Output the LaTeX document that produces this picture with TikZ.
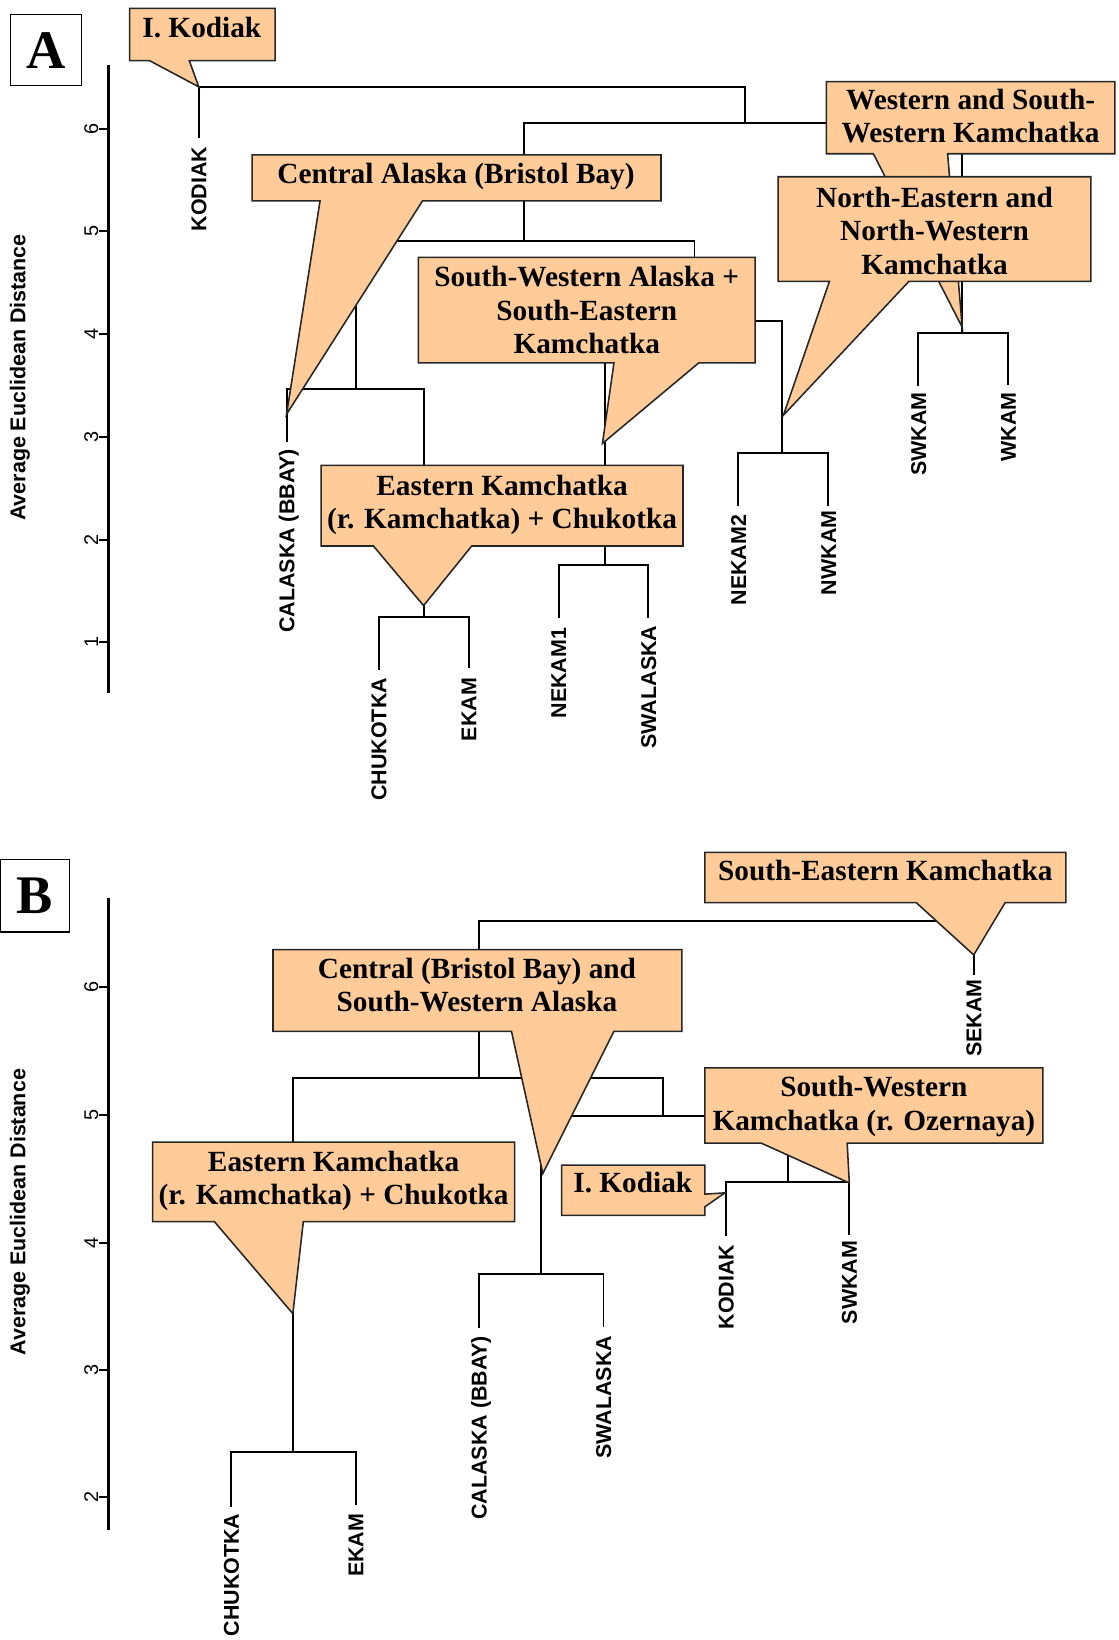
\documentclass[tikz,border=0pt]{standalone}
\usepackage{fontspec}
\setmainfont{Liberation Serif}
\newfontfamily\lsans{Liberation Sans}
\definecolor{peach}{HTML}{FFCC99}
\begin{document}
\begin{tikzpicture}[x=1pt,y=-1pt,
  dline/.style={line width=1.9pt,line join=miter},
  axisline/.style={line width=3.2pt},
  tickline/.style={line width=1.8pt},
  ticklab/.style={font=\lsans\fontsize{19}{20}\selectfont,rotate=90,anchor=south,inner sep=0pt,text height=13.6pt,text depth=0pt},
  axtitle/.style={font=\lsans\bfseries\fontsize{20.5}{22}\selectfont,rotate=90,inner sep=0pt},
  leaflab/.style={font=\lsans\bfseries\fontsize{20.5}{22}\selectfont,rotate=90,anchor=east,inner sep=0pt,text height=14.7pt,text depth=0pt},
  callout/.style={fill=peach,draw=black!85,line width=1.5pt,line join=miter},
  ctext/.style={font=\bfseries\fontsize{28}{32}\selectfont,align=center,inner sep=0pt},
  panlab/.style={draw,line width=1.4pt,inner sep=0pt,font=\bfseries\fontsize{52}{52}\selectfont}
]
\useasboundingbox (0,0) rectangle (1069,1568);

% ================= PANEL A =================
\node[panlab,minimum width=68pt,minimum height=68pt] (panA) at (44,48) {A};
\draw[axisline] (104,62) -- (104,663);
\foreach \v/\yy in {1/614,2/516,3/418,4/319,5/221,6/123}{
  \draw[tickline] (95,\yy) -- (104,\yy);
  \node[ticklab] (aT\v) at (94,\yy) {\v};
}
\node[axtitle] (aAx) at (19,361) {Average Euclidean Distance};

% leaves (line ends)
\coordinate (aKOD) at (190,132);
\coordinate (aSWK) at (878,369);
\coordinate (aWK)  at (964,368);
\coordinate (aCAL) at (274,423);
\coordinate (aCHU) at (362,641);
\coordinate (aEK)  at (448,639);
\coordinate (aNE1) at (534,591);
\coordinate (aSWA) at (620,591);
\coordinate (aNE2) at (706,484);
\coordinate (aNW)  at (792,484);
% clusters
\coordinate (aRoot) at (451,83);
\coordinate (aR)  at (712,118);
\coordinate (aL)  at (501,230);
\coordinate (aK)  at (920,318);
\coordinate (aC)  at (340,372);
\coordinate (aE)  at (405,590);
\coordinate (aM)  at (664,307);
\coordinate (aN1) at (578,540);
\coordinate (aN2) at (748,433);

\draw[dline] (aKOD) |- (aRoot) -| (aR);
\draw[dline] (aL) |- (aR) -| (aK);
\draw[dline] (aC) |- (aL) -| (aM);
\draw[dline] (aCAL) |- (aC) -| (aE);
\draw[dline] (aCHU) |- (aE) -| (aEK);
\draw[dline] (aN1) |- (aM) -| (aN2);
\draw[dline] (aNE1) |- (aN1) -| (aSWA);
\draw[dline] (aNE2) |- (aN2) -| (aNW);
\draw[dline] (aSWK) |- (aK) -| (aWK);

\node[leaflab] (laKOD) at (190,140) {KODIAK};
\node[leaflab] (laSWK) at (878,375) {SWKAM};
\node[leaflab] (laWK)  at (964,375) {WKAM};
\node[leaflab] (laCAL) at (274,429) {CALASKA (BBAY)};
\node[leaflab] (laCHU) at (362,648) {CHUKOTKA};
\node[leaflab] (laEK)  at (448,648) {EKAM};
\node[leaflab] (laNE1) at (534,600) {NEKAM1};
\node[leaflab] (laSWA) at (620,598) {SWALASKA};
\node[leaflab] (laNE2) at (706,492) {NEKAM2};
\node[leaflab] (laNW)  at (792,488) {NWKAM};

% callouts A
\path[callout] (124,8) -- (263,8) -- (263,58) -- (181,58) -- (190,83) -- (143,58) -- (124,58) -- cycle;
\node[ctext] (aKodC) at (193,29.6) {\strut I. Kodiak};

\path[callout] (241,148) -- (632,148) -- (632,192) -- (404,192) -- (274,396) -- (306,192) -- (241,192) -- cycle;
\node[ctext] (aCenC) at (436,168.6) {\strut Central Alaska (Bristol Bay)};

\path[callout] (400,246) -- (722,246) -- (722,347) -- (668,347) -- (576,424) -- (587,347) -- (400,347) -- cycle;
\node[ctext] (aSWAC) at (561,299.6) {\strut South-Western Alaska +\\\strut South-Eastern\\\strut Kamchatka};

\path[callout] (307,445) -- (653,445) -- (653,522) -- (451,522) -- (405,579) -- (357,522) -- (307,522) -- cycle;
\node[ctext] (aEKC) at (480,483.1) {\strut Eastern Kamchatka\\\strut (r. Kamchatka) + Chukotka};

\path[callout] (790,78) -- (1066,78) -- (1066,147) -- (906,147) -- (920,313) -- (835,147) -- (790,147) -- cycle;
\node[ctext] (aWSWC) at (928,114.1) {\strut Western and South-\\\strut Western Kamchatka};

\path[callout] (744,169) -- (1043,169) -- (1043,269) -- (869,269) -- (749,397) -- (793,269) -- (744,269) -- cycle;
\node[ctext] (aNENWC) at (893.5,223.6) {\strut North-Eastern and\\\strut North-Western\\\strut Kamchatka};

% ================= PANEL B =================
\node[panlab,minimum width=66pt,minimum height=69pt] (panB) at (33.5,856.5) {B};
\draw[axisline] (104,859) -- (104,1463);
\foreach \v/\yy in {2/1431,3/1310,4/1188,5/1066,6/944}{
  \draw[tickline] (95,\yy) -- (104,\yy);
  \node[ticklab] (bT\v) at (94,\yy) {\v};
}
\node[axtitle] (bAx) at (19,1159) {Average Euclidean Distance};

\coordinate (bSEK) at (931,932);
\coordinate (bCHU) at (221,1441);
\coordinate (bEK)  at (340,1439);
\coordinate (bCAL) at (458,1270);
\coordinate (bSWA) at (577,1269);
\coordinate (bKOD) at (694,1182);
\coordinate (bSWK) at (812,1181);
\coordinate (bRoot) at (694,881);
\coordinate (bL) at (458,1031);
\coordinate (bE) at (280,1388);
\coordinate (bM) at (634,1067);
\coordinate (bC) at (517,1218);
\coordinate (bK) at (753,1130);

\draw[dline] (bL) |- (bRoot) -| (bSEK);
\draw[dline] (bE) |- (bL) -| (bM);
\draw[dline] (bCHU) |- (bE) -| (bEK);
\draw[dline] (bC) |- (bM) -| (bK);
\draw[dline] (bCAL) |- (bC) -| (bSWA);
\draw[dline] (bKOD) |- (bK) -| (bSWK);

\node[leaflab] (lbSEK) at (931,936) {SEKAM};
\node[leaflab] (lbKOD) at (694,1190) {KODIAK};
\node[leaflab] (lbSWK) at (812,1186) {SWKAM};
\node[leaflab] (lbCAL) at (458,1277) {CALASKA (BBAY)};
\node[leaflab] (lbSWA) at (577,1277) {SWALASKA};
\node[leaflab] (lbCHU) at (221,1447) {CHUKOTKA};
\node[leaflab] (lbEK)  at (340,1447) {EKAM};

% callouts B
\path[callout] (674,815) -- (1019,815) -- (1019,863) -- (961,863) -- (931,913) -- (876,863) -- (674,863) -- cycle;
\node[ctext] (bSEKC) at (846.5,835.1) {\strut South-Eastern Kamchatka};

\path[callout] (261,908) -- (652,908) -- (652,986) -- (587,986) -- (519,1122) -- (489,986) -- (261,986) -- cycle;
\node[ctext] (bCenC) at (456,945.1) {\strut Central (Bristol Bay) and\\\strut South-Western Alaska};

\path[callout] (674,1021) -- (997,1021) -- (997,1093) -- (810,1093) -- (812,1131) -- (728,1093) -- (674,1093) -- cycle;
\node[ctext] (bSWKC) at (835.5,1058.2) {\strut South-Western\\\strut Kamchatka (r. Ozernaya)};

\path[callout] (146,1092) -- (492,1092) -- (492,1168) -- (290,1168) -- (280,1256) -- (205,1168) -- (146,1168) -- cycle;
\node[ctext] (bEKC) at (319,1129.6) {\strut Eastern Kamchatka\\\strut (r. Kamchatka) + Chukotka};

\path[callout] (537,1114) -- (674,1114) -- (674,1141.7) -- (693,1140.5) -- (674,1153.8) -- (674,1162) -- (537,1162) -- cycle;
\node[ctext] (bKodC) at (605,1134) {\strut I. Kodiak};

\end{tikzpicture}
\end{document}
